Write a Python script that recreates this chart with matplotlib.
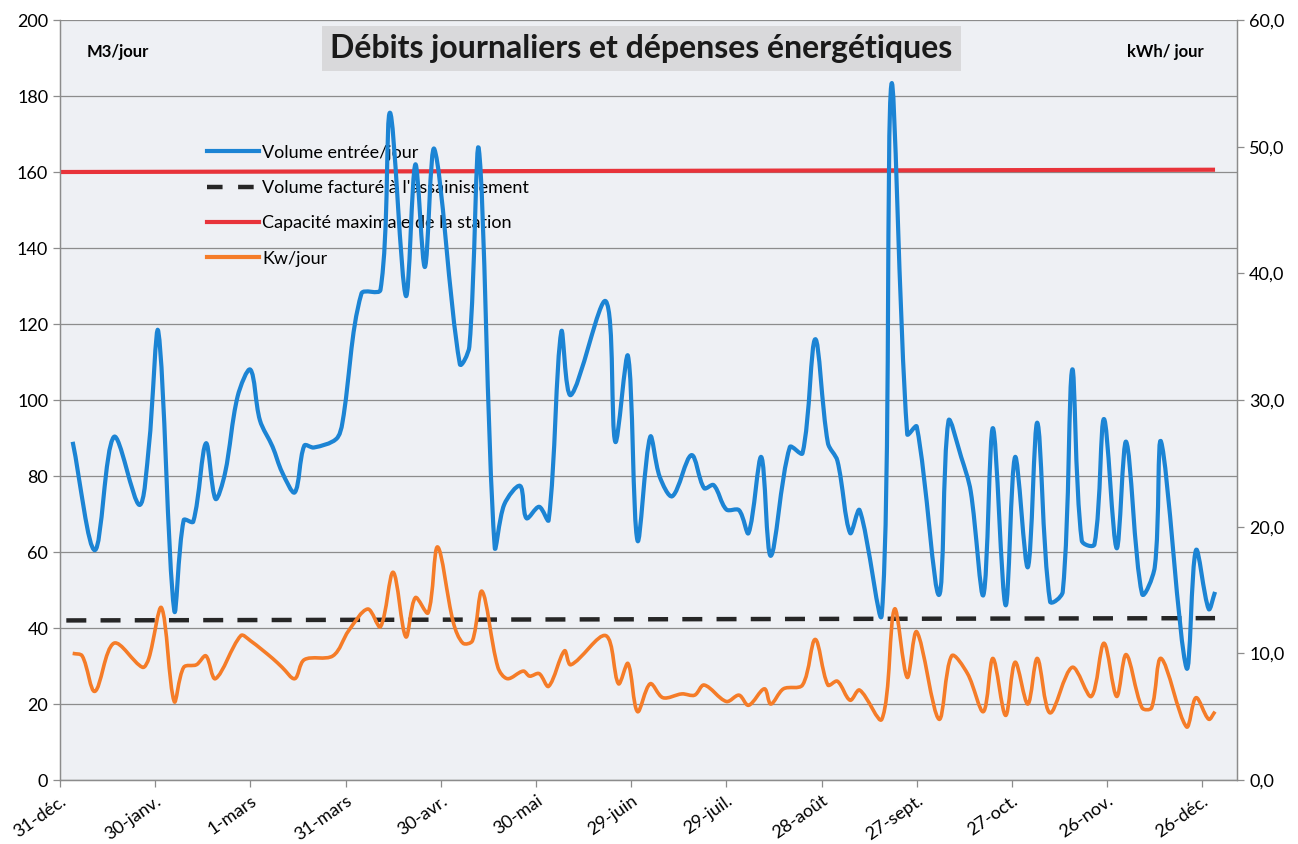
import matplotlib
matplotlib.use("Agg")
import matplotlib.pyplot as plt
import numpy as np
from matplotlib.path import Path
from matplotlib.patches import PathPatch
from matplotlib.lines import Line2D

plt.rcParams["font.family"] = ["Lato", "DejaVu Sans"]

# ── données (jours depuis le 31-déc.) ─────────────────────────────────────────
jours_volume = [4, 11, 17, 25, 28, 31, 36, 39, 42, 46, 49, 52, 56, 60, 63, 67, 70, 74,
                77, 80, 87, 89, 95, 101, 104, 109, 112, 115, 118, 126, 129, 132, 137,
                140, 145, 147, 151, 154, 158, 161, 172, 175, 179, 182, 186, 189, 193,
                199, 203, 206, 210, 214, 217, 221, 224, 230, 234, 238, 242, 245, 249,
                252, 259, 262, 267, 270, 277, 280, 284, 287, 291, 294, 298, 301, 305,
                308, 312, 316, 319, 322, 326, 329, 333, 336, 341, 345, 347, 355, 358,
                362, 364]
volume_entree = [89, 60.5, 90.3, 72.4, 87.7, 118, 44.7, 68.4, 68, 88.6, 74, 80.7, 101,
                 108, 94.7, 87.7, 81, 75.7, 88, 87.5, 89.7, 94, 128, 129, 175.6, 127.4,
                 162, 135, 166, 109.5, 114, 166, 61.3, 72.5, 77.4, 68.9, 71.9, 68.4, 118,
                 101.3, 126, 89, 111.6, 63, 90.3, 79.8, 74.7, 85.5, 76.8, 77.6, 71.2, 71,
                 65, 85, 59, 87.6, 86, 116, 88.7, 84, 65, 71, 43.7, 183, 91, 93, 48.7,
                 94.5, 85, 76, 48.7, 92.6, 46, 85, 56, 94, 47, 49.5, 108, 63, 62, 95, 61,
                 89, 49, 56, 89, 29.5, 60.5, 45, 49.5]

jours_kw = [4, 7, 11, 17, 26, 28, 32, 36, 39, 43, 46, 49, 57, 60, 67, 70, 74, 77, 86,
            91, 97, 101, 105, 109, 112, 116, 119, 124, 127, 130, 133, 138, 141, 146,
            148, 151, 154, 159, 161, 172, 176, 179, 182, 186, 190, 196, 200, 203, 210,
            214, 217, 222, 224, 228, 234, 238, 242, 245, 249, 252, 259, 263, 267, 270,
            277, 281, 286, 291, 294, 298, 301, 305, 308, 312, 319, 325, 329, 333, 336,
            341, 344, 347, 355, 358, 362, 364]
kw_jour = [10.0, 9.8, 7.0, 10.8, 8.9, 9.6, 13.6, 6.2, 8.9, 9.1, 9.8, 8.0, 11.4, 11.0,
           9.6, 8.9, 8.0, 9.5, 9.8, 11.8, 13.5, 12.1, 16.4, 11.3, 14.4, 13.2, 18.4, 12.4,
           10.8, 11.0, 14.9, 8.9, 8.0, 8.6, 8.2, 8.4, 7.4, 10.2, 9.1, 11.4, 7.6, 9.2, 5.4,
           7.6, 6.5, 6.8, 6.7, 7.5, 6.2, 6.7, 5.9, 7.2, 6.0, 7.2, 7.5, 11.1, 7.5, 7.8, 6.3,
           7.1, 4.8, 13.5, 8.1, 11.7, 4.8, 9.8, 8.4, 5.4, 9.6, 5.1, 9.3, 6.0, 9.6, 5.3,
           8.9, 6.6, 10.8, 6.6, 9.9, 5.7, 5.7, 9.6, 4.2, 6.5, 4.8, 5.4]

jours_facture = [2, 364]
volume_facture = [42.0, 42.6]

jours_capacite = [0, 364]
capacite_max = [160.0, 160.6]

tick_jours = [0, 30, 60, 90, 120, 150, 180, 210, 240, 270, 300, 330, 360]
tick_labels = ["31-déc.", "30-janv.", "1-mars", "31-mars", "30-avr.", "30-mai",
               "29-juin", "29-juil.", "28-août", "27-sept.", "27-oct.", "26-nov.",
               "26-déc."]

# ── couleurs ──────────────────────────────────────────────────────────────────
C_BLEU = "#1c84d4"
C_ORANGE = "#f57c28"
C_ROUGE = "#e8333a"
C_NOIR = "#262626"
C_FOND = "#eef0f4"
C_GRILLE = "#8c8c8c"


def courbe_lissee(ax, x, y):
    """Courbe de Bézier façon « lissage » Excel, calculée en coordonnées écran."""
    trans = ax.transData
    pts = trans.transform(np.column_stack([x, y]).astype(float))
    n = len(pts)
    verts = [pts[0]]
    codes = [Path.MOVETO]
    for i in range(n - 1):
        p0 = pts[i - 1] if i > 0 else pts[i]
        p1, p2 = pts[i], pts[i + 1]
        p3 = pts[i + 2] if i + 2 < n else pts[i + 1]
        d01 = np.hypot(*(p1 - p0))
        d12 = np.hypot(*(p2 - p1))
        d23 = np.hypot(*(p3 - p2))
        t1 = (p2 - p0) * (d12 / (d01 + d12)) if d01 + d12 > 0 else 0
        t2 = (p3 - p1) * (d12 / (d12 + d23)) if d12 + d23 > 0 else 0
        verts += [p1 + t1 / 3, p2 - t2 / 3, p2]
        codes += [Path.CURVE4] * 3
    verts = trans.inverted().transform(np.array(verts))
    return Path(verts, codes)


fig = plt.figure(figsize=(12.98, 8.44), dpi=100)
ax1 = fig.add_axes([0.0462, 0.0758, 0.907, 0.9005])
ax2 = ax1.twinx()

ax1.set_facecolor(C_FOND)
ax1.set_xlim(0, 371)
ax1.set_ylim(0, 200)
ax2.set_ylim(0, 60)

ax1.set_yticks(np.arange(0, 201, 20))
ax1.grid(axis="y", color=C_GRILLE, lw=0.9)
ax1.set_axisbelow(True)
ax2.set_yticks(np.arange(0, 61, 10))
ax2.set_yticklabels([f"{v:.1f}".replace(".", ",") for v in np.arange(0, 61, 10)])

ax1.set_xticks(tick_jours)
ax1.set_xticklabels(tick_labels, rotation=35, ha="right", rotation_mode="anchor")

for ax in (ax1, ax2):
    for s in ax.spines.values():
        s.set_color(C_GRILLE)
        s.set_linewidth(0.9)
    ax.spines["top"].set_visible(False)
    ax.tick_params(colors=C_GRILLE, labelcolor="black", labelsize=13, length=5, width=0.9)
ax1.tick_params(axis="x", pad=4)

# ── tracés ────────────────────────────────────────────────────────────────────
ax1.plot(jours_capacite, capacite_max, color=C_ROUGE, lw=3, solid_capstyle="butt", zorder=3)
ax1.plot(jours_facture, volume_facture, color=C_NOIR, lw=3.2, dashes=(4.5, 3.2), zorder=3)
ax1.add_patch(PathPatch(courbe_lissee(ax1, jours_volume, volume_entree), fill=False,
                        ec=C_BLEU, lw=3, zorder=4, joinstyle="round"))
ax2.add_patch(PathPatch(courbe_lissee(ax2, jours_kw, kw_jour), fill=False,
                        ec=C_ORANGE, lw=2.6, zorder=4, joinstyle="round"))

# ── textes ────────────────────────────────────────────────────────────────────
ax1.text(0.494, 0.962, "Débits journaliers et dépenses énergétiques",
         transform=ax1.transAxes, ha="center", va="center", fontsize=23,
         fontweight="bold", color="#1a1a1a", zorder=6,
         bbox=dict(boxstyle="square,pad=0.25", fc="#d9d9db", ec="none"))
ax1.text(0.049, 0.958, "M3/jour", transform=ax1.transAxes, ha="center", va="center",
         fontsize=12, fontweight="bold")
ax1.text(0.939, 0.958, "kWh/ jour", transform=ax1.transAxes, ha="center", va="center",
         fontsize=12, fontweight="bold")

handles = [
    Line2D([0], [0], color=C_BLEU, lw=3),
    Line2D([0], [0], color=C_NOIR, lw=3.2, dashes=(3.5, 3.5)),
    Line2D([0], [0], color=C_ROUGE, lw=3),
    Line2D([0], [0], color=C_ORANGE, lw=3),
]
labels = ["Volume entrée/jour", "Volume facturé à l'assainissement",
          "Capacité maximale de la station", "Kw/jour"]
leg = ax1.legend(handles, labels, loc="upper left", bbox_to_anchor=(0.125, 0.836),
                 frameon=False, fontsize=13, handlelength=2.9, handletextpad=0.15,
                 labelspacing=1.07, borderpad=0, borderaxespad=0)
leg.set_zorder(2)

fig.savefig("out.png", dpi=100)
